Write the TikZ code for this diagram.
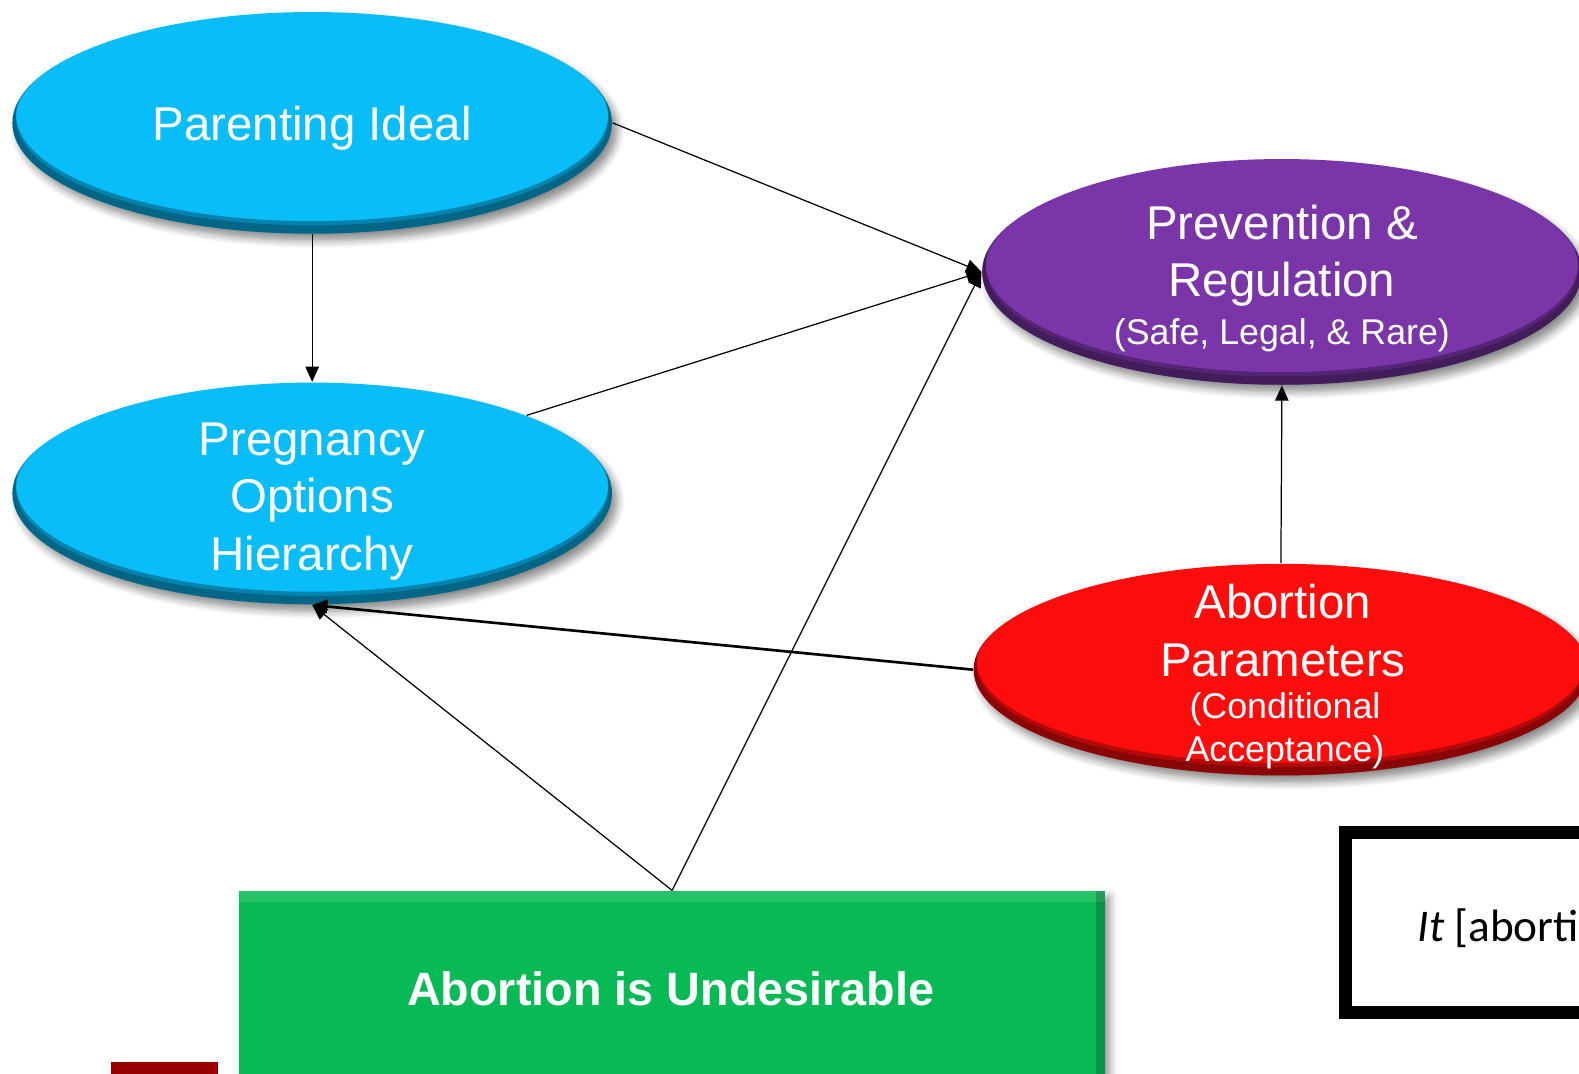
\documentclass[tikz,border=0pt]{standalone}
\usepackage{fontspec}
\setmainfont{Liberation Sans}
\newfontfamily\quotefont{Carlito}
\usetikzlibrary{shapes.geometric, arrows.meta, shadows.blur}

\definecolor{optcyan}{RGB}{8,189,248}
\definecolor{regpurple}{RGB}{122,53,168}
\definecolor{parred}{RGB}{255,13,13}
\definecolor{undgreen}{RGB}{8,186,86}
\definecolor{tabred}{RGB}{153,0,0}

\begin{document}
\begin{tikzpicture}[
    x=0.01cm, y=-0.01cm,
    % 1. Core Shapes
    blob/.style={ellipse, minimum width=5.95cm, minimum height=2.2cm, inner sep=0pt,
        blur shadow={shadow xshift=1.5pt, shadow yshift=-2pt, shadow blur steps=6, shadow opacity=45}},
    % dark rim along the lower edge of a blob
    bevel/.style 2 args={path picture={
        \fill[black, opacity=0.22, even odd rule] (path picture bounding box.center) ellipse[x radius=4cm, y radius=2cm]
            ([yshift=1.2pt]path picture bounding box.center) ellipse[x radius=#1, y radius=#2];
        \fill[black, opacity=0.3, even odd rule] (path picture bounding box.center) ellipse[x radius=4cm, y radius=2cm]
            ([yshift=2.4pt]path picture bounding box.center) ellipse[x radius=#1, y radius=#2];}},
    bigtxt/.style={text=white, align=center, font=\fontsize{13.4}{16.2}\selectfont},
    smalltxt/.style={text=white, align=center, font=\fontsize{10.1}{12.2}\selectfont},
    slab/.style={minimum width=8.59cm, minimum height=1.94cm, inner sep=0pt, fill=undgreen,
        blur shadow={shadow xshift=1.5pt, shadow yshift=-1.5pt, shadow blur steps=5, shadow opacity=40},
        path picture={
        \fill[white, opacity=0.12] (path picture bounding box.north west) rectangle ([yshift=-3pt]path picture bounding box.north east);
        \fill[black, opacity=0.2] ([xshift=-2.5pt]path picture bounding box.north east) rectangle (path picture bounding box.south east);}},
    % 2. Connectors
    arr/.style={-{Triangle[length=4.3pt,width=3.8pt]}, line width=0.35pt},
    boldarr/.style={arr, line width=0.75pt}
]
\useasboundingbox (0,0) rectangle (1568,1066);
\clip (0,0) rectangle (1568,1066);

% ===============================
% Ellipses
% ===============================
\node[blob, bevel={2.94cm}{1.06cm}, fill=optcyan] (par) at (310,122) {};
\node[bigtxt] (partxt) at (310,127) {Parenting Ideal};

\node[blob, bevel={2.94cm}{1.06cm}, fill=optcyan] (preg) at (310,490) {};
\node[bigtxt] (pregtxt) at (310,498) {Pregnancy\\Options\\Hierarchy};

\node[blob, bevel={2.94cm}{1.08cm}, fill=regpurple, minimum height=2.24cm] (prev) at (1273,270) {};
\node[bigtxt] (prevtxt) at (1273,254) {Prevention \&\\Regulation};
\node[smalltxt] (prevsub) at (1273,333) {(Safe, Legal, \& Rare)};

\node[blob, bevel={3.02cm}{1.01cm}, fill=parred, minimum width=6.1cm, minimum height=2.1cm] (abp) at (1272,665) {};
\node[bigtxt] (abptxt) at (1274,626) {Abortion\\Parameters};
\node[smalltxt] (abpsub) at (1276,726) {(Conditional\\Acceptance)};

% ===============================
% Bottom blocks
% ===============================
\node[slab] (und) at (667.5,982) {};
\node[text=white, font=\fontsize{13.2}{16}\selectfont\bfseries] (undtxt) at (666,982) {Abortion is Undesirable};

\node[fill=tabred, minimum width=1.06cm, minimum height=0.3cm, inner sep=0pt, anchor=north west] (tab) at (110,1054) {};

% Quote box (cut off at the right edge)
\draw[line width=0.13cm] (1336.5,826.5) rectangle (1700,1005.5);
\node[anchor=base west, inner sep=0pt, font=\quotefont\fontsize{12.8}{15}\selectfont] (quote) at (1407,935) {\textit{It} [aborti};

% ===============================
% Connectors
% ===============================
\draw[arr] (par.east) -- (prev.west);
\draw[arr] (par.south) -- (preg.north);
\draw[arr] (preg.20) -- (prev.west);
\draw[arr] (und.north) -- (prev.west);
\draw[arr] (und.north) -- (preg.south);
\draw[boldarr] (abp.west) -- (preg.south);
\draw[arr] (abp.north) -- (prev.south);

\end{tikzpicture}
\end{document}
